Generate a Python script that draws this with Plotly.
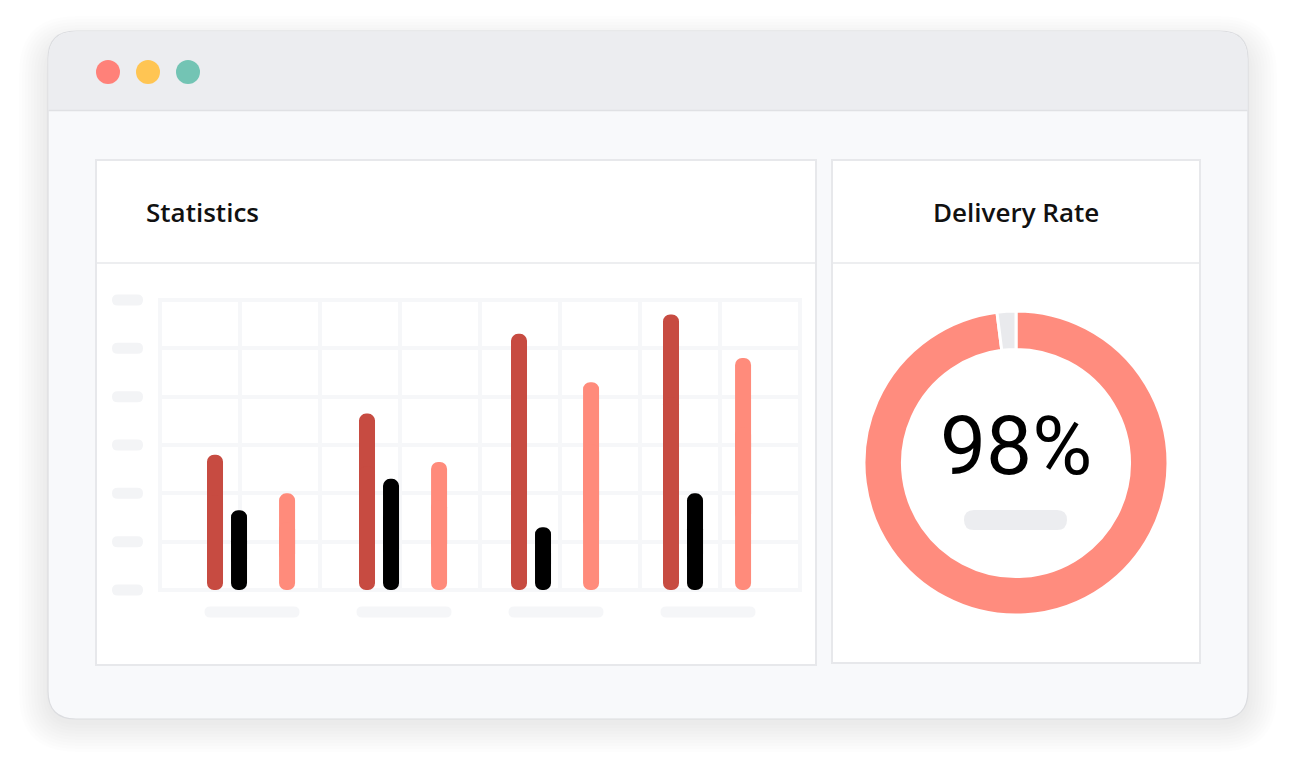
import plotly.graph_objects as go

# ---------------- data ----------------
groups = ["Q1", "Q2", "Q3", "Q4"]
series_names = ["Orders", "Returns", "Delivered"]
orders = [28, 36.5, 53, 57]
returns = [16.5, 23, 13, 20]
delivered = [20, 26.5, 43, 48]
y_ticks = [0, 10, 20, 30, 40, 50, 60]
rate_labels = ["Delivered", "Missed"]
rate_values = [98, 2]
rate_text = "98%"
title_left = "Statistics"
title_right = "Delivery Rate"

# ---------------- styles ----------------
W, H = 1296, 770
OFF = 8  # page body margin of the html page
C_RED = "#C74B41"
C_BLACK = "#000000"
C_SALMON = "#FF8B7B"
C_DONUT = "#FF8C7E"
C_GRID = "#F6F7F9"
C_PILL = "#F3F4F6"
C_BAR_TITLE = "#ECEDF0"
C_BODY = "#F8F9FB"
C_BORDER = "#E7E8EB"
TITLE_FONT = "Open Sans"
BIG_FONT = "Roboto"

series = [
    (orders, C_RED, -0.296),
    (returns, C_BLACK, -0.138),
    (delivered, C_SALMON, 0.178),
]
BAR_W = 16 / 152
PX_PER_UNIT = 290 / 60


def px(x):
    return (x - OFF) / W


def py(y):
    return 1 - (y - OFF) / H


def rr_path(x0, y0, x1, y1, r, corners=(1, 1, 1, 1)):
    tl, tr, br, bl = [r * c for c in corners]
    def P(x, y):
        return f"{px(x):.6f},{py(y):.6f}"
    s = f"M{P(x0 + tl, y0)} L{P(x1 - tr, y0)} "
    s += f"Q{P(x1, y0)} {P(x1, y0 + tr)} " if tr else ""
    s += f"L{P(x1, y1 - br)} "
    s += f"Q{P(x1, y1)} {P(x1 - br, y1)} " if br else ""
    s += f"L{P(x0 + bl, y1)} "
    s += f"Q{P(x0, y1)} {P(x0, y1 - bl)} " if bl else ""
    s += f"L{P(x0, y0 + tl)} "
    s += f"Q{P(x0, y0)} {P(x0 + tl, y0)} " if tl else ""
    return s + "Z"


shapes = []


def add_path(path, fill, line_color=None, line_width=0, layer="below"):
    shapes.append(dict(type="path", path=path, xref="paper", yref="paper",
                       fillcolor=fill, layer=layer,
                       line=dict(color=line_color or fill, width=line_width)))


def add_line(x0, y0, x1, y1, color, width):
    shapes.append(dict(type="line", xref="paper", yref="paper", x0=px(x0), x1=px(x1),
                       y0=py(y0), y1=py(y1), line=dict(color=color, width=width),
                       layer="below"))


# soft shadow
for i in range(10):
    s = 2 + i * 3
    add_path(rr_path(48 - s, 31 - s + 14, 1248 + s, 719 + s + 4, 28 + s),
             "rgba(20,20,40,0.006)")
# window
add_path(rr_path(48, 31, 1248, 719, 28), C_BODY, "#DCDDE0", 1.2)
add_path(rr_path(48.6, 31.6, 1247.4, 110, 27.5, (1, 1, 0, 0)), C_BAR_TITLE)
add_line(48.6, 110.5, 1247.4, 110.5, "#E0E1E4", 1.5)
# traffic dots
for cx, col in [(108, "#FF8179"), (148, "#FFC553"), (188, "#73C4B4")]:
    shapes.append(dict(type="circle", xref="paper", yref="paper",
                       x0=px(cx - 12), x1=px(cx + 12), y0=py(72 + 12), y1=py(72 - 12),
                       fillcolor=col, line=dict(width=0), layer="below"))
# panels
add_path(rr_path(96, 160, 816, 665, 0), "#FFFFFF", C_BORDER, 2)
add_path(rr_path(832, 160, 1200, 663, 0), "#FFFFFF", C_BORDER, 2)
add_line(97, 263, 815, 263, "#EDEEF0", 2)
add_line(833, 263, 1199, 263, "#EDEEF0", 2)
# y tick placeholder pills
for t in y_ticks:
    yc = 590 - t * PX_PER_UNIT
    add_path(rr_path(112, yc - 5.5, 143, yc + 5.5, 5.5), C_PILL)
# x label placeholder pills
for i, _ in enumerate(groups):
    xc = 252 + 152 * i
    add_path(rr_path(xc - 47.5, 606.5, xc + 47.5, 617.5, 5.5), "#F5F6F8")
# pill below percentage
add_path(rr_path(964, 510, 1067, 530, 10), "#ECEDF0", layer="above")

fig = go.Figure()

# invisible trace anchoring the grid subplot
fig.add_trace(go.Scatter(x=[0], y=[0], xaxis="x", yaxis="y", mode="markers",
                         marker=dict(opacity=0), hoverinfo="skip", showlegend=False))

# bars: two overlapping parts so both ends get rounded
for (vals, col, off), name in zip(series, series_names):
    lo = [v * 0.3 for v in vals]
    hi = [v * 0.7 for v in vals]
    fig.add_trace(go.Bar(x=groups, y=hi, base=lo, xaxis="x2", yaxis="y2",
                         marker=dict(color=col, cornerradius=7, line=dict(width=0)),
                         width=BAR_W, offset=off, name=name, showlegend=False))
    fig.add_trace(go.Bar(x=groups, y=[-h for h in hi], base=hi, xaxis="x2", yaxis="y2",
                         marker=dict(color=col, cornerradius=7, line=dict(width=0)),
                         width=BAR_W, offset=off, name=name, showlegend=False,
                         hoverinfo="skip"))

# donut
fig.add_trace(go.Pie(labels=rate_labels, values=rate_values, hole=0.747, sort=False,
                     direction="clockwise", rotation=0, textinfo="none",
                     marker=dict(colors=[C_DONUT, "#E9EAED"], line=dict(color="#FFFFFF", width=3)),
                     domain=dict(x=[px(864), px(1168)], y=[py(615), py(311)]),
                     showlegend=False))

annotations = [
    dict(text=title_left, x=px(144), y=py(212), xref="paper", yref="paper",
         xanchor="left", yanchor="middle", showarrow=False,
         font=dict(family=TITLE_FONT, size=26, color="#111111", weight=600)),
    dict(text=title_right, x=px(1016), y=py(212), xref="paper", yref="paper",
         xanchor="center", yanchor="middle", showarrow=False,
         font=dict(family=TITLE_FONT, size=26, color="#111111", weight=600)),
    dict(text=rate_text, x=px(1016), y=py(446), xref="paper", yref="paper",
         xanchor="center", yanchor="middle", showarrow=False,
         font=dict(family=BIG_FONT, size=82, color="#000000", weight=400)),
]

gx_pad = 2 / 80
gy_pad = 2 / PX_PER_UNIT

fig.update_layout(
    width=W, height=H, margin=dict(l=0, r=0, t=0, b=0),
    paper_bgcolor="#FFFFFF", plot_bgcolor="rgba(0,0,0,0)",
    barmode="overlay", showlegend=False,
    shapes=shapes, annotations=annotations,
    xaxis=dict(domain=[px(158), px(802)], range=[-gx_pad, 8 + gx_pad], dtick=1, tick0=0,
               showgrid=True, gridcolor=C_GRID, gridwidth=4, zeroline=False,
               showline=False, showticklabels=False, ticks="", fixedrange=True, anchor="y"),
    yaxis=dict(domain=[py(592), py(298)], range=[-gy_pad, 60 + gy_pad], dtick=10, tick0=0,
               showgrid=True, gridcolor=C_GRID, gridwidth=4, zeroline=False,
               showline=False, showticklabels=False, ticks="", fixedrange=True, anchor="x"),
    xaxis2=dict(domain=[px(176), px(784)], range=[-0.5, 3.5], type="category",
                showgrid=False, zeroline=False, showline=False, showticklabels=False,
                ticks="", fixedrange=True, anchor="y2"),
    yaxis2=dict(domain=[py(590), py(300)], range=[0, 60],
                showgrid=False, zeroline=False, showline=False, showticklabels=False,
                ticks="", fixedrange=True, anchor="x2"),
)

fig.write_html("out.html")
